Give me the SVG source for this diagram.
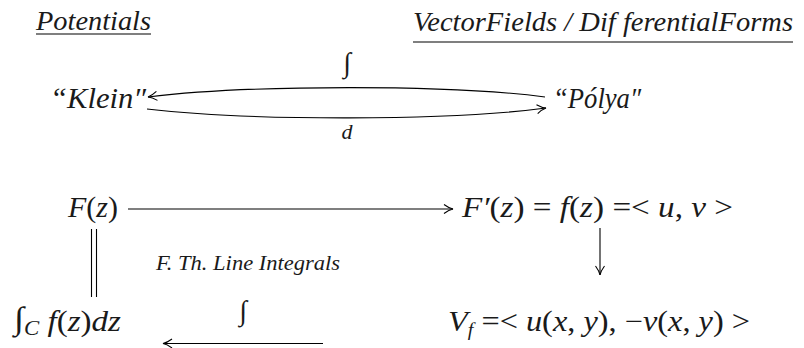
<svg xmlns="http://www.w3.org/2000/svg" width="804" height="348" viewBox="0 0 804 348">
<defs>
<marker id="ah" markerUnits="userSpaceOnUse" markerWidth="14" markerHeight="12" viewBox="-10 -6 12 12" refX="0" refY="0" orient="auto" overflow="visible">
<path d="M-9,-4.5 Q-4,-0.8 0,0 Q-4,0.8 -9,4.5" fill="none" stroke="#000" stroke-width="1.1"/>
</marker>
<style>
text{font-family:"Liberation Serif","DejaVu Serif",serif;font-style:italic;fill:#1a1a1a}
.up{font-style:normal}
.hd{font-size:28px}
.nd{font-size:29px}
.lb{font-size:20px}
.ig{font-style:normal}
.ln{fill:none;stroke:#000;stroke-width:1.1}
.ul{stroke:#555;stroke-width:1.3}
</style>
</defs>
<g id="headers">
<text class="hd" x="36" y="30" textLength="115" lengthAdjust="spacingAndGlyphs">Potentials</text>
<line class="ul" x1="36" y1="34" x2="151" y2="34"/>
<text class="hd" x="413" y="31" textLength="380" lengthAdjust="spacingAndGlyphs">VectorFields / Dif ferentialForms</text>
<line class="ul" x1="413" y1="42" x2="793" y2="42"/>
</g>
<g id="klein"><text class="nd" x="50" y="108" textLength="96" lengthAdjust="spacingAndGlyphs">“Klein″</text></g>
<g id="polya"><text class="nd" x="553" y="108" textLength="88" lengthAdjust="spacingAndGlyphs">“Pólya″</text></g>
<g id="Fz"><text class="nd" x="68" y="217" textLength="50" lengthAdjust="spacingAndGlyphs">F<tspan class="up">(</tspan>z<tspan class="up">)</tspan></text></g>
<g id="Fprime"><text class="nd" x="462" y="217" textLength="271" lengthAdjust="spacingAndGlyphs">F′<tspan class="up">(</tspan>z<tspan class="up">) = </tspan>f<tspan class="up">(</tspan>z<tspan class="up">) =&lt; </tspan>u<tspan class="up">, </tspan>v<tspan class="up"> &gt;</tspan></text></g>
<g id="integral"><text class="nd" x="14" y="331" textLength="107" lengthAdjust="spacingAndGlyphs"><tspan class="ig" font-size="32" dy="-2">∫</tspan><tspan font-size="20" dy="6">C</tspan><tspan dy="-4"> f</tspan><tspan class="up">(</tspan>z<tspan class="up">)</tspan>dz</text></g>
<g id="Vf"><text class="nd" x="448" y="331" textLength="302" lengthAdjust="spacingAndGlyphs">V<tspan font-size="18" dy="5">f</tspan><tspan class="up" dy="-5"> =&lt; </tspan>u<tspan class="up">(</tspan>x<tspan class="up">, </tspan>y<tspan class="up">), −</tspan>v<tspan class="up">(</tspan>x<tspan class="up">, </tspan>y<tspan class="up">) &gt;</tspan></text></g>
<g id="ftli"><text class="lb" x="156" y="270" textLength="184" lengthAdjust="spacingAndGlyphs">F. Th. Line Integrals</text></g>
<g id="connectors">
<path class="ln" d="M545,97 C450,84.5 250,84.5 148,97" marker-end="url(#ah)"/>
<path class="ln" d="M147,109 C250,121 450,121 546,108" marker-end="url(#ah)"/>
<text class="ig" x="347" y="72" text-anchor="middle" font-size="28">∫</text>
<text x="347" y="139" text-anchor="middle" font-size="22">d</text>
<line class="ln" x1="128" y1="209" x2="453" y2="209" marker-end="url(#ah)"/>
<line class="ln" x1="600" y1="228" x2="600" y2="275" marker-end="url(#ah)"/>
<line class="ln" x1="91.5" y1="229" x2="91.5" y2="297"/>
<line class="ln" x1="96.5" y1="229" x2="96.5" y2="297"/>
<line class="ln" x1="323" y1="343.5" x2="163" y2="343.5" marker-end="url(#ah)"/>
<text class="ig" x="243" y="320" text-anchor="middle" font-size="28">∫</text>
</g>
</svg>
